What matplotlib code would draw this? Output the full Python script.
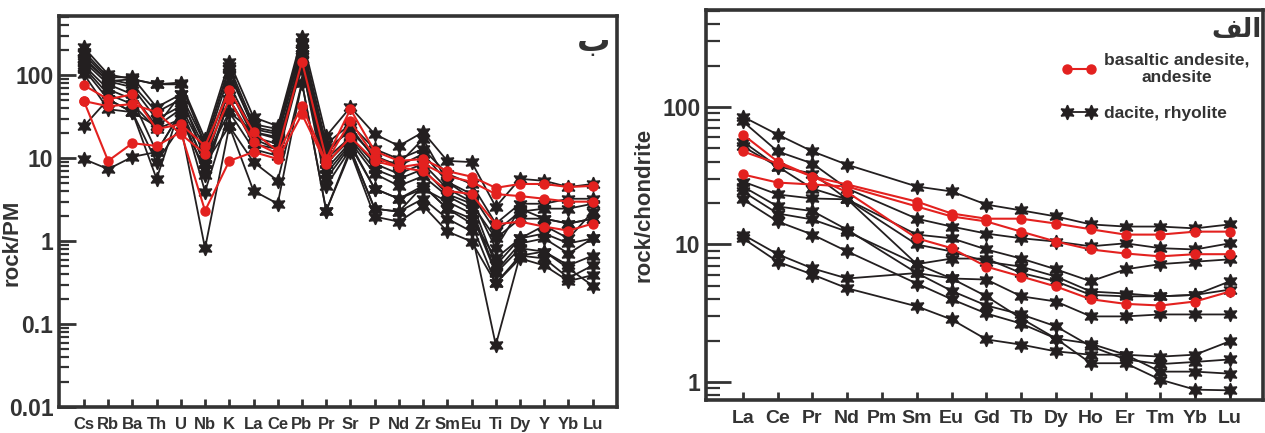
import matplotlib
matplotlib.use("Agg")
import matplotlib.pyplot as plt
from matplotlib.lines import Line2D
from matplotlib.ticker import FuncFormatter, LogLocator

plt.rcParams['font.family'] = ['Liberation Sans', 'DejaVu Sans']
plt.rcParams['font.weight'] = 'bold'

# ---- left panel: primitive-mantle normalised spider diagram ----
pm_elements = ["Cs", "Rb", "Ba", "Th", "U", "Nb", "K", "La", "Ce", "Pb", "Pr",
               "Sr", "P", "Nd", "Zr", "Sm", "Eu", "Ti", "Dy", "Y", "Yb", "Lu"]

pm_dacite = [
    [217, 103, 90, 78, 82, 17.1, 147, 31.3, 24.4, 294, 18.5, 41.3, 19.6, 14.1, 20.7, 9.3, 9.0, 2.6, 5.65, 5.35, 4.5, 4.9],
    [194, 95, 95, 41.3, 59, 14.9, 128, 25.8, 22.5, 256, 14.9, 25.8, 12.9, 9.8, 12.9, 6.5, 4.9, 1.63, 2.83, 2.83, 3.25, 3.25],
    [179, 90, 78, 36, 51.5, 12.9, 103, 23.8, 20.7, 236, 12.9, 21.3, 10.7, 8.1, 11.3, 5.2, 3.7, 1.31, 2.27, 2.47, 2.47, 2.83],
    [164, 85, 72, 29.6, 42.5, 11.3, 78, 20.7, 18.0, 205, 9.8, 18.0, 8.6, 6.5, 8.6, 4.3, 3.0, 0.51, 1.08, 1.54, 1.08, 2.27],
    [147, 78, 59, 24.4, 39.1, 8.6, 68, 18.0, 14.9, 179, 7.4, 15.7, 6.5, 4.65, 6.1, 3.5, 2.47, 0.43, 0.94, 1.08, 0.71, 1.08],
    [132, 68, 51.5, 11.9, 36, 6.3, 51.5, 14.9, 12.9, 156, 5.65, 14.1, 4.3, 3.25, 4.65, 2.47, 1.63, 0.31, 0.67, 0.75, 0.51, 0.67],
    [118, 51.5, 36, 5.65, 42.5, 3.95, 36, 12.9, 10.7, 135, 4.65, 12.9, 2.47, 2.27, 3.25, 1.87, 1.31, 0.056, 0.67, 0.62, 0.36, 0.51],
    [103, 39.1, 36, 9.0, 24.4, 0.82, 24.4, 9.0, 5.35, 82, 2.33, 11.9, 1.98, 1.72, 2.68, 1.31, 0.99, 0.31, 0.62, 0.51, 0.33, 0.39],
    [24.4, 51.5, 36, 24.4, 59, 9.8, 36, 20.7, 17.1, 118, 8.6, 17.1, 7.4, 5.65, 7.4, 3.7, 2.83, 1.08, 1.87, 1.87, 1.63, 1.87],
    [9.8, 7.4, 10.4, 11.9, 36, 8.6, 24.4, 4.05, 2.83, 82, 2.33, 12.9, 2.47, 2.27, 4.65, 2.47, 1.87, 0.62, 1.08, 1.24, 0.94, 1.08],
    [156, 85, 90, 78, 78, 14.9, 118, 22.5, 19.6, 205, 11.3, 23.8, 9.8, 8.6, 17.1, 5.2, 3.25, 0.82, 2.47, 1.87, 1.63, 1.87],
    [125, 59, 45, 22.5, 29.6, 7.4, 51.5, 17.1, 12.9, 179, 6.5, 14.9, 4.3, 3.25, 4.3, 3.0, 2.15, 0.41, 0.82, 0.75, 0.47, 0.29],
]

pm_andesite = [
    [76, 51.5, 59, 22.5, 25.8, 14.1, 66, 20.7, 12.2, 147, 9.8, 39.1, 12.2, 9.3, 9.8, 7.0, 6.0, 4.4, 4.9, 4.9, 4.5, 4.65],
    [49, 42.5, 45, 36, 19.6, 11.3, 51.5, 15.7, 11.3, 42.5, 9.0, 28, 10.4, 7.8, 8.6, 6.1, 5.2, 3.7, 3.5, 3.25, 3.0, 3.0],
    [49, 9.3, 15.2, 14.1, 20.7, 2.33, 9.3, 11.9, 9.8, 34, 8.6, 18, 9.3, 7.8, 7.0, 4.05, 3.7, 1.6, 1.72, 1.5, 1.34, 1.63],
]

# ---- right panel: chondrite normalised REE (no Pm data) ----
ree_elements = ["La", "Ce", "Pr", "Nd", "Pm", "Sm", "Eu", "Gd", "Tb", "Dy", "Ho", "Er", "Tm", "Yb", "Lu"]
ree_measured = ["La", "Ce", "Pr", "Nd", "Sm", "Eu", "Gd", "Tb", "Dy", "Ho", "Er", "Tm", "Yb", "Lu"]

ree_dacite = [
    [85, 63, 47.5, 38, 26.4, 24.3, 19.5, 17.7, 16.0, 14.0, 13.5, 13.5, 13.1, 14.0],
    [78.5, 47.5, 38.8, 25.5, 15.4, 13.5, 12.0, 11.1, 10.5, 9.7, 10.2, 9.4, 9.2, 10.2],
    [56, 36.9, 32.8, 21.3, 11.8, 11.1, 9.2, 7.9, 6.6, 5.4, 6.6, 7.2, 7.5, 7.8],
    [51.6, 36.9, 25.5, 21.3, 10.0, 8.9, 7.5, 6.9, 5.85, 4.55, 4.4, 4.2, 4.3, 5.4],
    [28.7, 23.1, 21.6, 21.3, 7.2, 7.9, 7.9, 6.2, 5.4, 4.3, 4.2, 4.2, 4.3, 4.7],
    [24.3, 16.8, 15.2, 12.4, 7.2, 5.66, 4.2, 2.9, 2.07, 1.9, 1.58, 1.19, 1.19, 1.15],
    [21.3, 14.7, 11.8, 8.9, 5.2, 4.0, 3.15, 2.66, 2.07, 1.37, 1.37, 1.04, 0.88, 0.87],
    [11.8, 8.5, 6.7, 5.66, 6.2, 5.66, 5.56, 4.2, 3.85, 3.0, 3.0, 3.1, 3.1, 3.1],
    [11.1, 7.5, 6.05, 4.8, 3.55, 2.85, 2.04, 1.87, 1.67, 1.58, 1.58, 1.53, 1.58, 1.98],
    [26.4, 18.9, 17.5, 12.8, 6.2, 4.6, 3.6, 3.1, 2.54, 1.82, 1.46, 1.35, 1.4, 1.46],
]

ree_andesite = [
    [63, 40.1, 31.2, 24, 11.1, 9.4, 6.9, 5.85, 4.95, 4.0, 3.7, 3.6, 3.85, 4.55],
    [47.5, 38.8, 31.2, 27.3, 20.5, 16.8, 15.4, 15.4, 14.2, 12.9, 11.8, 11.8, 12.4, 12.4],
    [32.3, 28.2, 27.3, 26.4, 18.9, 16.0, 14.7, 12.4, 10.5, 9.2, 8.6, 8.2, 8.5, 8.5],
]

RED = "#e3211f"
BLACK = "#231f20"
GREY = "#333333"
star = (6, 1, 0)

fig = plt.figure(figsize=(12.65, 4.33), dpi=100)
ax1 = fig.add_axes([0.0466, 0.060, 0.4411, 0.903])
ax2 = fig.add_axes([0.5581, 0.0762, 0.4403, 0.9007])


def style(ax, major_len, minor_len, xsize):
    ax.set_yscale("log")
    for sp in ax.spines.values():
        sp.set_linewidth(2.6)
        sp.set_color(GREY)
    ax.tick_params(axis="y", which="major", direction="in", length=major_len, width=2,
                   color=GREY, labelsize=16.5, labelcolor=GREY, pad=4)
    ax.tick_params(axis="y", which="minor", direction="in", length=minor_len, width=1.6, color=GREY)
    ax.tick_params(axis="x", which="major", direction="in", length=6, width=2,
                   color=GREY, labelsize=xsize, labelcolor=GREY, pad=7)
    ax.yaxis.set_major_locator(LogLocator(base=10))
    ax.yaxis.set_minor_locator(LogLocator(base=10, subs=range(2, 10)))
    ax.yaxis.set_major_formatter(FuncFormatter(lambda v, _: f"{v:g}"))
    for t in ax.get_xticklabels() + ax.get_yticklabels():
        t.set_fontweight("bold")


# left panel
x_pm = range(len(pm_elements))
for s in pm_dacite:
    ax1.plot(x_pm, s, color=BLACK, lw=1.3, marker=star, ms=10.5, mfc=BLACK, mec=BLACK)
for s in pm_andesite:
    ax1.plot(x_pm, s, color=RED, lw=1.5, marker="o", ms=6.5, mfc=RED, mec=RED)
style(ax1, 12, 7, 12)
ax1.set_xlim(-1.03, 22)
ax1.set_ylim(0.01, 520)
ax1.set_xticks(list(x_pm))
ax1.set_xticklabels(pm_elements, fontweight="bold")
ax1.set_ylabel("rock/PM", fontsize=16, fontweight="bold", color=GREY)
ax1.yaxis.set_label_coords(-0.066, 0.42)
ax1.text(0.958, 0.935, "ب", transform=ax1.transAxes, fontsize=24, fontweight="bold",
         color=GREY, ha="center", va="center", family=["DejaVu Sans"])

# right panel
x_ree = [ree_elements.index(e) for e in ree_measured]
for s in ree_dacite:
    ax2.plot(x_ree, s, color=BLACK, lw=1.3, marker=star, ms=10.5, mfc=BLACK, mec=BLACK)
for s in ree_andesite:
    ax2.plot(x_ree, s, color=RED, lw=1.5, marker="o", ms=6.5, mfc=RED, mec=RED)
style(ax2, 18, 10, 14)
ax2.set_xlim(-1.06, 14.95)
ax2.set_ylim(0.74, 507)
ax2.set_xticks(range(len(ree_elements)))
ax2.set_xticklabels(ree_elements, fontweight="bold")
ax2.set_ylabel("rock/chondrite", fontsize=16, fontweight="bold", color=GREY)
ax2.yaxis.set_label_coords(-0.092, 0.5)
# "الف" written in visual (presentation-form) order so it renders joined
ax2.text(0.997, 0.95, "\ufed2\ufedf\ufe8d", transform=ax2.transAxes, fontsize=19,
         fontweight="bold", color=GREY, ha="right", va="center", family=["DejaVu Sans"])

handles = [
    Line2D([], [], color=RED, lw=1.5, marker="o", ms=6.5),
    Line2D([], [], color=BLACK, lw=1.3, marker=star, ms=10.5),
]
leg = ax2.legend(handles, ["basaltic andesite,\nandesite", "dacite, rhyolite"],
                 loc="upper right", bbox_to_anchor=(1.003, 0.93), frameon=False,
                 numpoints=2, handlelength=2.0, handletextpad=0.4, labelspacing=1.2,
                 prop={"size": 12.5, "weight": "bold"})
for t in leg.get_texts():
    t.set_multialignment("center")
    t.set_color(GREY)

fig.savefig("out.png", dpi=100)
